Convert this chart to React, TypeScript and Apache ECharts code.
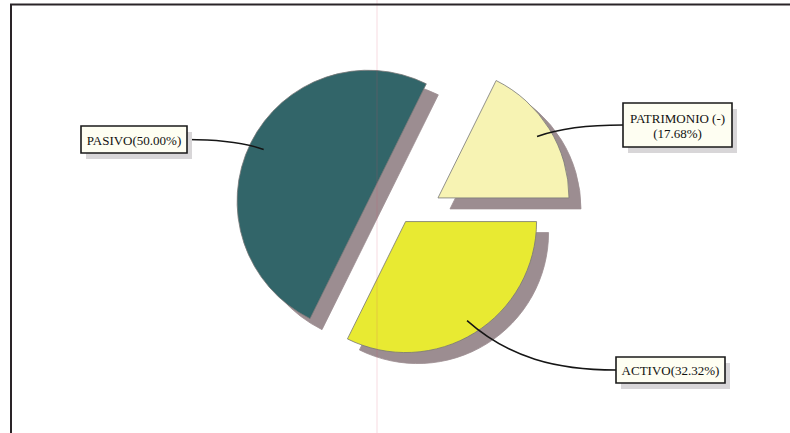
import React, { useEffect, useRef } from "react";
import * as echarts from "echarts";

// ---- data ----
const categories = ["ACTIVO", "PASIVO", "PATRIMONIO (-)"];
const values = [32.32, 50.0, 17.68];

// ---- style / layout ----
const sliceColors = ["#e8ea30", "#306569", "#f7f3b3"];
const sliceShadow = "#9c8d91";
const explode = [3, 40, 40];
const pieCenter = [404, 219];
const pieRadius = 131;
const anchorRatio = 0.89;
const labelBoxes = [
  { x: 616, y: 357, w: 109, h: 26, side: "left" },
  { x: 81, y: 126, w: 106, h: 27, side: "right" },
  { x: 623, y: 103, w: 109, h: 44, side: "left" },
];
const FONT = '13px "Liberation Serif", "Times New Roman", serif';

export default function App() {
  const ref = useRef<HTMLDivElement>(null);
  useEffect(() => {
    if (!ref.current) return;
    const chart = echarts.init(ref.current, null, { renderer: "svg" });
    const total = values.reduce((a, b) => a + b, 0);
    let acc = 0;
    const geo = values.map((v, i) => {
      const start = (acc / total) * 2 * Math.PI;
      acc += v;
      const end = (acc / total) * 2 * Math.PI;
      const mid = (start + end) / 2;
      const cx = pieCenter[0] + explode[i] * Math.cos(mid);
      const cy = pieCenter[1] + explode[i] * Math.sin(mid);
      return {
        mid,
        cx,
        cy,
        ax: cx + pieRadius * anchorRatio * Math.cos(mid),
        ay: cy + pieRadius * anchorRatio * Math.sin(mid),
        pct: ((v / total) * 100).toFixed(2) + "%",
      };
    });

    const series: any[] = values.map((_, i) => ({
      type: "pie",
      center: [geo[i].cx, geo[i].cy],
      radius: pieRadius,
      startAngle: 0,
      clockwise: true,
      silent: true,
      avoidLabelOverlap: false,
      label: { show: false },
      labelLine: { show: false },
      data: categories.map((name, j) => ({
        name,
        value: values[j],
        itemStyle:
          j === i
            ? {
                color: sliceColors[j],
                borderColor: "#777",
                borderWidth: 0.8,
                shadowColor: sliceShadow,
                shadowOffsetX: 12,
                shadowOffsetY: 11,
                shadowBlur: 0,
              }
            : { opacity: 0 },
      })),
    }));

    const graphic: any[] = [
      {
        type: "line",
        z: 100,
        shape: { x1: 10, y1: 4.5, x2: 790, y2: 4.5 },
        style: { stroke: "#2a2428", lineWidth: 2 },
      },
      {
        type: "line",
        z: 100,
        shape: { x1: 11, y1: 4, x2: 11, y2: 433 },
        style: { stroke: "#2a2428", lineWidth: 2 },
      },
      {
        type: "line",
        z: 99,
        shape: { x1: 377, y1: 0, x2: 377, y2: 433 },
        style: { stroke: "rgba(210,70,100,0.2)", lineWidth: 1 },
      },
    ];

    categories.forEach((name, i) => {
      const b = labelBoxes[i];
      const text =
        name + (name.length > 10 ? "\n" : "") + "(" + geo[i].pct + ")";
      const ex = b.side === "left" ? b.x : b.x + b.w;
      const ey = b.y + b.h / 2;
      const dx = geo[i].ax - ex;
      const dy = geo[i].ay - ey;
      graphic.push(
        {
          type: "bezierCurve",
          z: 101,
          shape: {
            x1: ex,
            y1: ey,
            cpx1: ex + 0.4 * dx,
            cpy1: ey,
            cpx2: ex + 0.72 * dx,
            cpy2: ey + 0.25 * dy,
            x2: geo[i].ax,
            y2: geo[i].ay,
          },
          style: { stroke: "#151515", lineWidth: 1.5, fill: null },
        },
        {
          type: "rect",
          z: 102,
          shape: { x: b.x + 5, y: b.y + 6, width: b.w, height: b.h },
          style: { fill: "#d8d6d8" },
        },
        {
          type: "rect",
          z: 103,
          shape: { x: b.x, y: b.y, width: b.w, height: b.h },
          style: { fill: "#fefef2", stroke: "#1a1a1a", lineWidth: 1.6 },
        },
        {
          type: "text",
          z: 104,
          style: {
            text,
            x: b.x + b.w / 2,
            y: b.y + b.h / 2 + 0.5,
            font: FONT,
            fill: "#111111",
            align: "center",
            verticalAlign: "middle",
            textAlign: "center",
            textVerticalAlign: "middle",
            lineHeight: 15,
          },
        }
      );
    });

    chart.setOption({
      animation: false,
      backgroundColor: "#ffffff",
      series,
      graphic,
    });
    return () => chart.dispose();
  }, []);
  return (
    <div
      ref={ref}
      style={{ position: "fixed", left: 0, top: 0, width: 790, height: 433 }}
    />
  );
}
